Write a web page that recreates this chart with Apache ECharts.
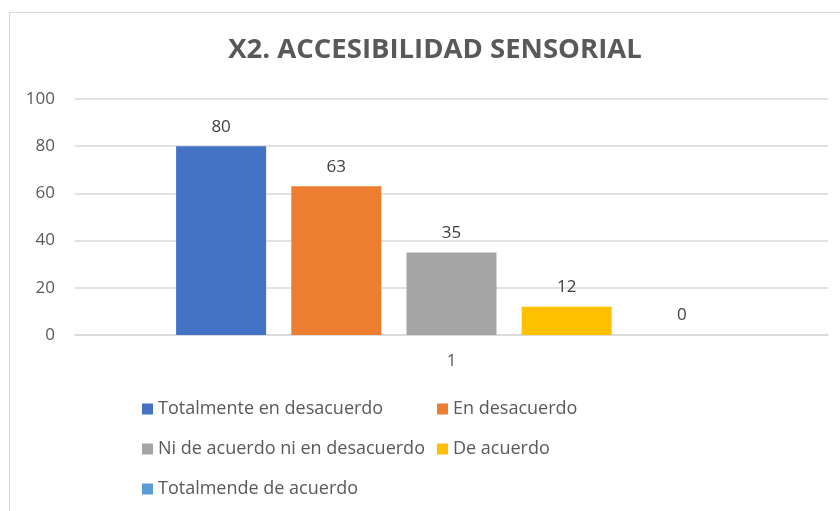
<!DOCTYPE html>
<html>
<head>
<meta charset="utf-8">
<script src="https://cdn.jsdelivr.net/npm/echarts@6/dist/echarts.min.js"></script>
<style>
  html, body { margin: 0; padding: 0; background: #fff; }
  #chart { width: 840px; height: 511px; }
  .frame { position: absolute; left: 9px; top: 12px; width: 840px; height: 520px; border: 1px solid #d9d9d9; box-sizing: border-box; pointer-events: none; }
</style>
</head>
<body>
<div class="frame"></div>
<div id="chart"></div>
<script>
// datos del gráfico
const categories = ['1']
const seriesNames = [
  'Totalmente en desacuerdo',
  'En desacuerdo',
  'Ni de acuerdo ni en desacuerdo',
  'De acuerdo',
  'Totalmende de acuerdo'
]
const seriesValues = [80, 63, 35, 12, 0]
const colors = ['#4472c4', '#ed7d31', '#a5a5a5', '#ffc000', '#5b9bd5']
const yTicks = [0, 20, 40, 60, 80, 100]

const font = 'Open Sans, Liberation Sans, sans-serif'

// posiciones de la leyenda (fila, columna)
const legendPos = [
  { left: 142, top: 400 },
  { left: 437, top: 400 },
  { left: 142, top: 440 },
  { left: 437, top: 440 },
  { left: 142, top: 480 }
]

const series = seriesNames.map((name, i) => ({
  name: name,
  type: 'bar',
  data: [seriesValues[i]],
  barWidth: 90,
  barGap: '28%',
  itemStyle: { color: colors[i] },
  label: {
    show: true,
    position: 'top',
    distance: 11,
    color: '#404040',
    fontSize: 17,
    fontFamily: font
  }
}))

const legends = seriesNames.map((name, i) => ({
  data: [name],
  left: legendPos[i].left,
  top: legendPos[i].top,
  icon: 'rect',
  itemWidth: 11,
  itemHeight: 11,
  itemGap: 4,
  padding: 0,
  textStyle: { color: '#595959', fontSize: 18, fontFamily: font, padding: [0, 0, 0, 0] },
  selectedMode: false
}))

const chart = echarts.init(document.getElementById('chart'))
chart.setOption({
  animation: false,
  color: colors,
  title: {
    text: 'X2. ACCESIBILIDAD SENSORIAL',
    left: 430,
    top: 31,
    textAlign: 'center',
    textStyle: { color: '#595959', fontSize: 27.5, fontWeight: 'bold', fontFamily: font }
  },
  legend: legends,
  grid: { left: 75, right: 12, top: 99, bottom: 176 },
  xAxis: {
    type: 'category',
    data: categories,
    axisLine: { lineStyle: { color: '#d9d9d9', width: 1.5 } },
    axisTick: { show: false },
    axisLabel: { color: '#595959', fontSize: 17, fontFamily: font, margin: 18 }
  },
  yAxis: {
    type: 'value',
    min: yTicks[0],
    max: yTicks[yTicks.length - 1],
    interval: 20,
    axisLine: { show: false },
    axisTick: { show: false },
    axisLabel: { color: '#595959', fontSize: 17, fontFamily: font, margin: 20 },
    splitLine: { lineStyle: { color: '#d9d9d9', width: 1.5 } }
  },
  series: series
})
</script>
</body>
</html>
